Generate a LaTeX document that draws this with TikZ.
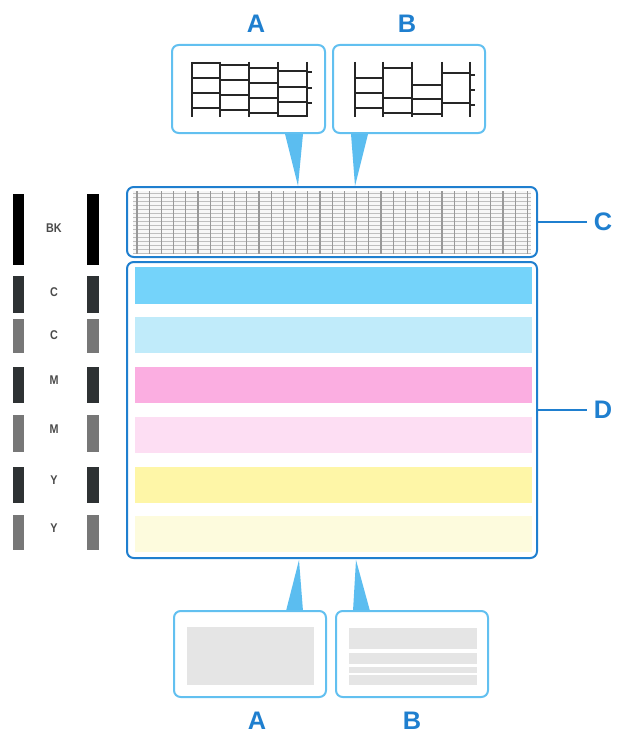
\documentclass[tikz,border=0pt]{standalone}
\usepackage{fontspec}
\setmainfont{Liberation Sans}
\usetikzlibrary{fit}
\definecolor{dblue}{HTML}{1F7FCF}
\definecolor{lblue}{HTML}{62C0F0}
\definecolor{tri}{HTML}{5BBDF0}
\definecolor{s1}{HTML}{74D3FA}
\definecolor{s2}{HTML}{C0EBFA}
\definecolor{s3}{HTML}{FBAEE1}
\definecolor{s4}{HTML}{FDDEF3}
\definecolor{s5}{HTML}{FEF6A7}
\definecolor{s6}{HTML}{FDFBDD}
\definecolor{pgray}{HTML}{E5E5E5}
\definecolor{dark}{HTML}{2E3234}
\definecolor{mid}{HTML}{777777}
\definecolor{lbl}{HTML}{4A4A4A}
\tikzset{
  letter/.style={font=\fontsize{19}{19}\selectfont\bfseries, text=dblue},
  smalllbl/.style={font=\fontsize{9.5}{9.5}\selectfont\bfseries, text=lbl, xscale=0.85},
  zoombox/.style={draw=lblue, line width=1.5pt, rounded corners=5pt, inner sep=0pt, fill=white},
  mainbox/.style={draw=dblue, line width=1.5pt, rounded corners=5pt, inner sep=0pt},
  pointer/.style={fill=tri, draw=none},
  leader/.style={draw=dblue, line width=2.2pt},
  pat/.style={line width=2.1pt, black!85},
}
\begin{document}
\begin{tikzpicture}[x=0.75pt,y=-0.75pt]
\useasboundingbox (0,0) rectangle (617,735);
\fill[white] (0,0) rectangle (617,735);

% ---- left reference bars and labels
\foreach \ya/\yb/\c/\yl/\t [count=\k] in {194/265/black/228/BK, 276/313/dark/292/C, 319/353/mid/335/C, 367/403/dark/380/M, 415/452/mid/429/M, 467/503/dark/480/Y, 515/550/mid/528/Y}{
  \fill[\c] (13,\ya) rectangle (24,\yb);
  \fill[\c] (87,\ya) rectangle (99,\yb);
  \node[smalllbl, transform shape] (lbl\k) at (54,\yl) {\t};
}

% ---- box C (grid)
\fill[black!3] (133,191) rectangle (531,254);
\foreach \j in {0,...,15} \draw[black!25, line width=0.4pt] (133,{193+\j*4}) -- (531,{193+\j*4});
\foreach \i in {0,...,32} \draw[black!40, line width=0.8pt] ({137+\i*12.2},191) -- ({137+\i*12.2},254);
\node[mainbox, fit={(127,187) (537,257)}] (boxC) {};

% ---- box D (stripes)
\node[mainbox, fit={(127,262) (537,558)}] (boxD) {};
\fill[s1] (135,267) rectangle (532,304);
\fill[s2] (135,317) rectangle (532,353);
\fill[s3] (135,367) rectangle (532,403);
\fill[s4] (135,417) rectangle (532,453);
\fill[s5] (135,467) rectangle (532,503);
\fill[s6] (135,516) rectangle (532,552);

% ---- leaders C and D
\coordinate (cEnd) at (587,222);
\coordinate (dEnd) at (587,410);
\draw[leader] (boxC.east |- cEnd) -- (cEnd);
\draw[leader] (boxD.east |- dEnd) -- (dEnd);
\node[letter] (labC) at (603,222) {C};
\node[letter] (labD) at (603,410) {D};

% ---- top zoom boxes
\node[zoombox, fit={(172,45) (325,133)}] (topA) {};
\node[zoombox, fit={(333,45) (485,133)}] (topB) {};
\node[letter] (labTA) at (256,24) {A};
\node[letter] (labTB) at (407,24) {B};
\fill[pointer] (285,134) -- (303,134) -- (298,186) -- cycle;
\fill[pointer] (351,134) -- (368,134) -- (355,186) -- cycle;

% pattern A
\foreach \x in {192,220,249,278,307} \draw[pat] (\x,62) -- (\x,117);
\foreach \y in {63,78,93,108} \draw[pat] (192,\y) -- (220,\y);
\foreach \y in {65,80,95,110} \draw[pat] (220,\y) -- (249,\y);
\foreach \y in {68,83,98,113} \draw[pat] (249,\y) -- (278,\y);
\foreach \y in {71,87,102,116} \draw[pat] (278,\y) -- (307,\y);
\foreach \y in {72,88,103} \draw[pat] (307,\y) -- (312,\y);
% pattern B
\foreach \x in {355,383,412,442,470} \draw[pat] (\x,62) -- (\x,117);
\foreach \y in {78,93,108} \draw[pat] (355,\y) -- (383,\y);
\foreach \y in {68,98,113} \draw[pat] (383,\y) -- (412,\y);
\foreach \y in {85,99,114} \draw[pat] (412,\y) -- (442,\y);
\foreach \y in {73,103} \draw[pat] (442,\y) -- (470,\y);
\foreach \y in {75,90,105} \draw[pat] (470,\y) -- (475,\y);

% ---- bottom zoom boxes
\fill[pointer] (286,611) -- (303,611) -- (299,560) -- cycle;
\fill[pointer] (353,611) -- (370,611) -- (356,560) -- cycle;
\node[zoombox, fit={(174,611) (326,697)}] (botA) {};
\node[zoombox, fit={(336,611) (488,697)}] (botB) {};
\fill[pgray] (187,627) rectangle (314,685);
\fill[pgray] (349,628) rectangle (477,649);
\fill[pgray] (349,653) rectangle (477,664);
\fill[pgray] (349,667) rectangle (477,673);
\fill[pgray] (349,675) rectangle (477,685);
\node[letter] (labBA) at (257,721) {A};
\node[letter] (labBB) at (412,721) {B};
\end{tikzpicture}
\end{document}
